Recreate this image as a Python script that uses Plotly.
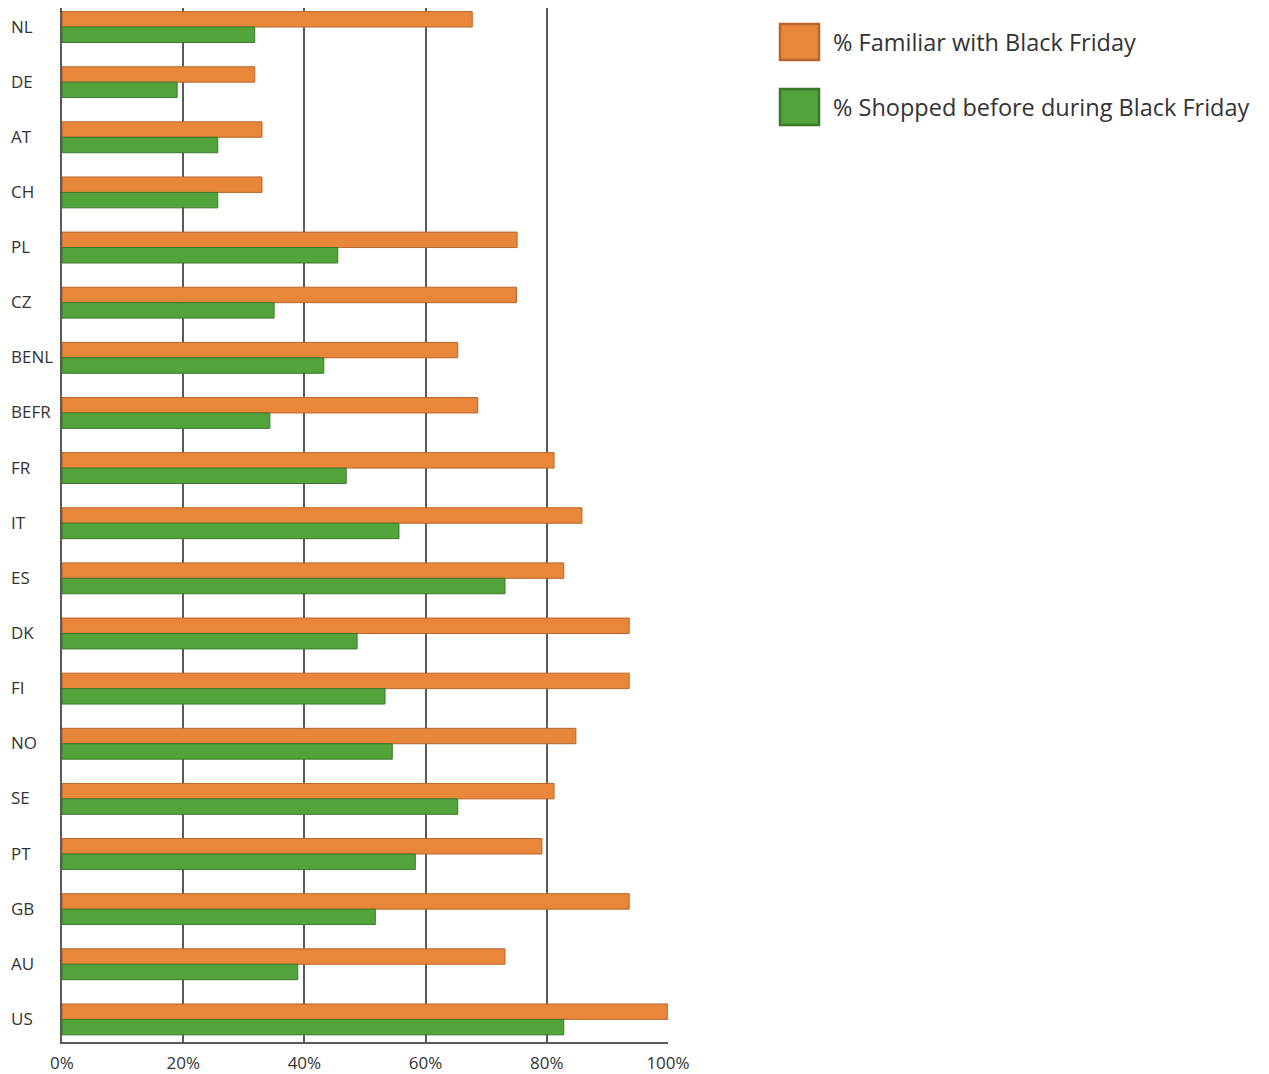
import plotly.graph_objects as go

# Countries, top to bottom
countries = ["NL", "DE", "AT", "CH", "PL", "CZ", "BENL", "BEFR", "FR", "IT",
             "ES", "DK", "FI", "NO", "SE", "PT", "GB", "AU", "US"]

# Share of respondents (%)
familiar = [67.7, 31.8, 33.0, 33.0, 75.1, 75.0, 65.3, 68.6, 81.2, 85.8,
            82.8, 93.6, 93.6, 84.8, 81.2, 79.2, 93.6, 73.1, 100.0]
shopped = [31.8, 19.0, 25.7, 25.7, 45.5, 35.0, 43.2, 34.3, 46.9, 55.6,
           73.1, 48.7, 53.3, 54.5, 65.3, 58.3, 51.7, 38.9, 82.8]

series_names = ["% Familiar with Black Friday", "% Shopped before during Black Friday"]
x_ticks = [0, 20, 40, 60, 80, 100]
x_tick_labels = ["0%", "20%", "40%", "60%", "80%", "100%"]

ORANGE, ORANGE_EDGE = "#E8873A", "#B9652A"
GREEN, GREEN_EDGE = "#52A43A", "#3B782B"
FONT = "Open Sans, Lato, sans-serif"
TEXT = "#333333"

fig = go.Figure()
fig.add_trace(go.Bar(y=countries, x=familiar, orientation="h", name=series_names[0],
                     marker=dict(color=ORANGE, line=dict(color=ORANGE_EDGE, width=1))))
fig.add_trace(go.Bar(y=countries, x=shopped, orientation="h", name=series_names[1],
                     marker=dict(color=GREEN, line=dict(color=GREEN_EDGE, width=1))))

# Country labels, left aligned at the page edge
for c in countries:
    fig.add_annotation(x=0, xref="paper", xshift=-53, xanchor="left",
                       y=c, yref="y", yshift=1, text=c, showarrow=False,
                       font=dict(family=FONT, size=17, color=TEXT))

# Legend swatches and labels
legend_colors = [(ORANGE, ORANGE_EDGE), (GREEN, GREEN_EDGE)]
for i, (name, (fill, edge)) in enumerate(zip(series_names, legend_colors)):
    y_top = 24 + i * 65
    fig.add_shape(type="rect", xref="paper", yref="paper",
                  x0=(780 - 62) / 606, x1=(819 - 62) / 606,
                  y0=1 - (y_top - 8) / 1034, y1=1 - (y_top + 36 - 8) / 1034,
                  fillcolor=fill, line=dict(color=edge, width=2.5))
    fig.add_annotation(xref="paper", yref="paper", x=(831 - 62) / 606,
                       y=1 - (y_top + 18 - 8) / 1034, xanchor="left", yanchor="middle",
                       text=name, showarrow=False,
                       font=dict(family=FONT, size=23.5, color=TEXT))

fig.update_layout(
    width=1269, height=1074,
    margin=dict(l=62, r=601, t=8, b=32, autoexpand=False),
    paper_bgcolor="white", plot_bgcolor="white",
    barmode="group", bargap=0.44, bargroupgap=0,
    showlegend=False,
    font=dict(family=FONT, color=TEXT),
)
fig.update_xaxes(range=[0, 100], tickvals=x_ticks, ticktext=x_tick_labels,
                 automargin=False,
                 showgrid=True, gridcolor="#5a5a5a", gridwidth=1.5,
                 zeroline=False, showline=True, linecolor="#5a5a5a", linewidth=1.5,
                 ticks="outside", ticklen=5, tickcolor="rgba(0,0,0,0)",
                 tickfont=dict(family=FONT, size=17, color=TEXT))
fig.update_yaxes(type="category", categoryorder="array", categoryarray=countries,
                 automargin=False,
                 range=[18.41, -0.345], showticklabels=False, showgrid=False,
                 zeroline=False, showline=True, linecolor="#5a5a5a", linewidth=1.5)

fig.write_html("out.html")
